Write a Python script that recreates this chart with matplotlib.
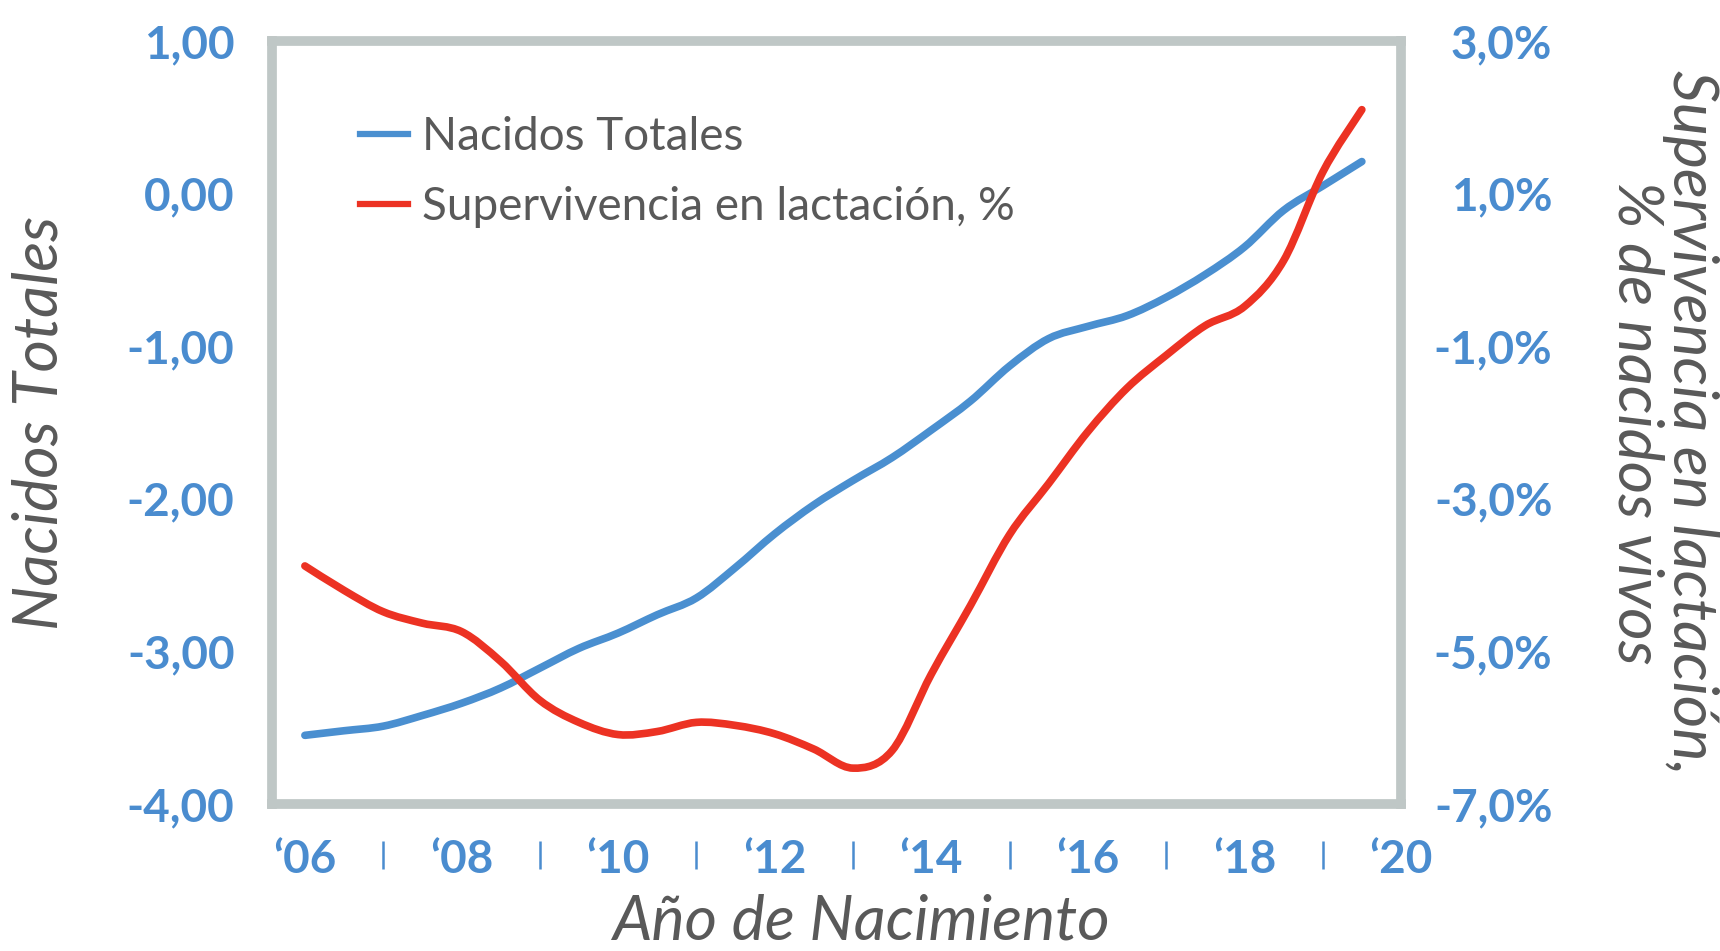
import numpy as np
import matplotlib
matplotlib.use("Agg")
import matplotlib.pyplot as plt
from matplotlib.path import Path
from matplotlib.patches import PathPatch
from matplotlib.lines import Line2D

plt.rcParams['font.family'] = ['Lato', 'DejaVu Sans']

# ---- data ----
periods = [2006.0, 2006.5, 2007.0, 2007.5, 2008.0, 2008.5, 2009.0, 2009.5,
           2010.0, 2010.5, 2011.0, 2011.5, 2012.0, 2012.5, 2013.0, 2013.5,
           2014.0, 2014.5, 2015.0, 2015.5, 2016.0, 2016.5, 2017.0, 2017.5,
           2018.0, 2018.5, 2019.0, 2019.5]
nacidos_totales = [-3.55, -3.52, -3.49, -3.42, -3.34, -3.24, -3.11, -2.98,
                   -2.88, -2.76, -2.65, -2.45, -2.23, -2.04, -1.88, -1.73,
                   -1.55, -1.36, -1.13, -0.95, -0.87, -0.80, -0.68, -0.53,
                   -0.35, -0.11, 0.05, 0.21]
supervivencia = [-3.88, -4.20, -4.48, -4.63, -4.74, -5.13, -5.64, -5.93,
                 -6.09, -6.05, -5.93, -5.97, -6.08, -6.28, -6.53, -6.30,
                 -5.30, -4.40, -3.47, -2.80, -2.12, -1.55, -1.12, -0.73,
                 -0.48, 0.12, 1.28, 2.10]

xtick_years = [2006, 2008, 2010, 2012, 2014, 2016, 2018, 2020]
xtick_labels = ['\u201806', '\u201808', '\u201810', '\u201812', '\u201814',
                '\u201816', '\u201818', '\u201820']
separator_years = [2007, 2009, 2011, 2013, 2015, 2017, 2019]
left_ticks = [1, 0, -1, -2, -3, -4]
left_labels = ['1,00', '0,00', '-1,00', '-2,00', '-3,00', '-4,00']
right_ticks = [3, 1, -1, -3, -5, -7]
right_labels = ['3,0%', '1,0%', '-1,0%', '-3,0%', '-5,0%', '-7,0%']

series_names = ['Nacidos Totales', 'Supervivencia en lactación, %']

# ---- style ----
BLUE = '#4A8FD0'
RED = '#EC3223'
TICK_BLUE = '#4A8CCF'
GRAY_TXT = '#595959'
FRAME = '#BFC7C6'


def smooth_path(x, y):
    pts = np.column_stack([x, y]).astype(float)
    n = len(pts)
    verts = [pts[0]]
    codes = [Path.MOVETO]
    for i in range(n - 1):
        p0 = pts[i - 1] if i > 0 else pts[i]
        p1 = pts[i]
        p2 = pts[i + 1]
        p3 = pts[i + 2] if i + 2 < n else pts[i + 1]
        c1 = p1 + (p2 - p0) / 6.0
        c2 = p2 - (p3 - p1) / 6.0
        verts += [c1, c2, p2]
        codes += [Path.CURVE4] * 3
    return Path(verts, codes)


fig = plt.figure(figsize=(17.2, 9.51), dpi=100)
ax = fig.add_axes([272 / 1720, 1 - 804 / 951, (1401 - 272) / 1720, 763 / 951])
ax2 = ax.twinx()

ax.set_xlim(2005.58, 2020.0)
ax.set_ylim(-4, 1)
ax2.set_ylim(-7, 3)

ax.add_patch(PathPatch(smooth_path(periods, nacidos_totales), fill=False,
                       edgecolor=BLUE, lw=5.5, capstyle='round', joinstyle='round'))
ax2.add_patch(PathPatch(smooth_path(periods, supervivencia), fill=False,
                        edgecolor=RED, lw=5.5, capstyle='round', joinstyle='round'))

# frame
for sp in ax.spines.values():
    sp.set_color(FRAME)
    sp.set_linewidth(7)
    sp.set_capstyle('projecting')
for sp in ax2.spines.values():
    sp.set_visible(False)

# ticks
ax.set_xticks(xtick_years, xtick_labels, fontsize=33, fontweight='bold', color=TICK_BLUE)
ax.tick_params(axis='x', length=0, pad=25)
ax.set_yticks(left_ticks, left_labels, fontsize=33, fontweight='bold', color=TICK_BLUE)
ax.tick_params(axis='y', length=0, pad=27)
ax2.set_yticks(right_ticks, right_labels, fontsize=33, fontweight='bold',
               color=TICK_BLUE, ha='right')
ax2.tick_params(axis='y', length=0, pad=109)

# separators between year labels
ax.vlines(separator_years, -0.0485, -0.085, transform=ax.get_xaxis_transform(),
          colors=TICK_BLUE, lw=1.8, clip_on=False)

# axis labels
ax.set_ylabel('Nacidos Totales', fontsize=45, style='italic', color=GRAY_TXT)
ax.yaxis.set_label_coords(-0.2055, 0.5)
ax.yaxis.label.set_va('center')

ax.set_xlabel('Año de Nacimiento', fontsize=45, style='italic', color=GRAY_TXT)
ax.xaxis.set_label_coords(0.522, -0.155)
ax.xaxis.label.set_va('center')

ax2.set_ylabel('Supervivencia en lactación,\n% de nacidos vivos', fontsize=45,
               style='italic', color=GRAY_TXT, rotation=270, linespacing=0.95)
ax2.yaxis.set_label_coords(1.232, 0.5)
ax2.yaxis.label.set_va('center')

# legend
handles = [Line2D([], [], color=BLUE, lw=4.5),
           Line2D([], [], color=RED, lw=4.5)]
leg = ax2.legend(handles, series_names, loc='upper left',
                 bbox_to_anchor=(0.078, 0.902), frameon=False, fontsize=33,
                 handlelength=1.05, handletextpad=0.3, labelspacing=0.62,
                 borderpad=0, borderaxespad=0)
for t in leg.get_texts():
    t.set_color(GRAY_TXT)

fig.savefig('out.png', dpi=100, facecolor='white')
